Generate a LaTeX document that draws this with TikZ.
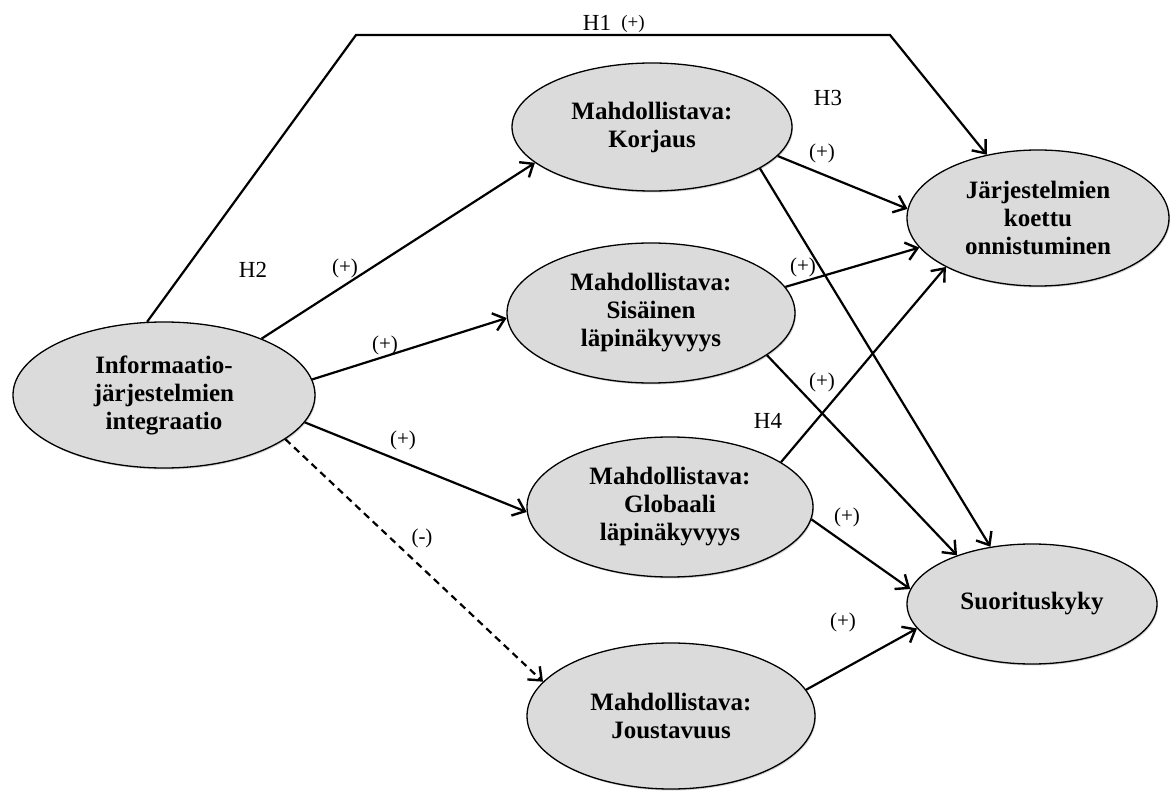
\documentclass[tikz,border=0pt]{standalone}
\usepackage{fontspec}
\setmainfont{Liberation Serif}
\usetikzlibrary{shapes.geometric,arrows.meta,shadows}

\definecolor{boxgrey}{RGB}{219,219,219}

\begin{document}
\begin{tikzpicture}[x=1pt,y=-1pt,
  concept/.style={ellipse, draw=black, line width=1.3pt, fill=boxgrey,
    inner sep=0pt, align=center,
    drop shadow={shadow xshift=1pt, shadow yshift=-1.5pt, opacity=0.35},
    font=\fontsize{25}{28}\selectfont\bfseries},
  link/.style={line width=2.2pt,
    -{Straight Barb[length=11pt,width=18pt,line width=2.4pt]}},
  hyp/.style={font=\fontsize{23}{26}\selectfont, inner sep=0pt},
  sign/.style={font=\fontsize{21}{23}\selectfont, inner sep=0pt}]

\useasboundingbox[fill=white] (0,0) rectangle (1171,794);

% constructs
\node[concept, minimum width=302pt, minimum height=146pt] (info) at (164,395)
  {Informaatio-\\järjestelmien\\integraatio};
\node[concept, minimum width=280pt, minimum height=128pt] (korj) at (652,127)
  {Mahdollistava:\\Korjaus};
\node[concept, minimum width=288pt, minimum height=140pt] (sis) at (651,313)
  {Mahdollistava:\\Sisäinen\\läpinäkyvyys};
\node[concept, minimum width=286pt, minimum height=140pt] (glob) at (670,507)
  {Mahdollistava:\\Globaali\\läpinäkyvyys};
\node[concept, minimum width=288pt, minimum height=146pt] (joust) at (671,716)
  {Mahdollistava:\\Joustavuus};
\node[concept, minimum width=262pt, minimum height=136pt] (succ) at (1038,218)
  {Järjestelmien\\koettu\\onnistuminen};
\node[concept, minimum width=250pt, minimum height=120pt] (perf) at (1032,604)
  {Suorituskyky};

% H1: direct path over the top
\coordinate (h1a) at (356,35);
\coordinate (h1b) at (890,35);
\draw[link] (info.103) -- (h1a) -- (h1b) -- (succ.129);

% H2: integration to the enablers
\draw[link] (info.30) -- (korj.197);
\draw[link] (info.6) -- (sis.182);
\draw[link] (info.349) -- (glob.182);
\draw[link, dashed, dash pattern=on 7pt off 5pt] (info.340) -- (joust.165);

% H3 / H4: enablers to outcomes
\draw[link] (korj.347) -- (succ.176);
\draw[link] (korj.339) -- (perf.126);
\draw[link] (sis.11) -- (succ.194);
\draw[link] (sis.340) -- (perf.147);
\draw[link] (glob.22) -- (succ.208);
\draw[link] (glob.355) -- (perf.173);
\draw[link] (joust.11) -- (perf.192);

% hypothesis labels
\node[hyp] (lh1) at (597,23) {H1};
\node[sign, font=\fontsize{19}{21}\selectfont] (lh1s) at (633,24) {(+)};
\node[hyp] (lh2) at (253,270) {H2};
\node[hyp] (lh3) at (828,98) {H3};
\node[hyp] (lh4) at (768,421) {H4};

% sign labels
\node[sign] (s1) at (345,268) {(+)};
\node[sign] (s2) at (385,345) {(+)};
\node[sign] (s3) at (403,440) {(+)};
\node[sign] (s4) at (422,538) {(-)};
\node[sign] (s5) at (822,153) {(+)};
\node[sign] (s6) at (803,267) {(+)};
\node[sign] (s7) at (822,382) {(+)};
\node[sign] (s8) at (847,517) {(+)};
\node[sign] (s9) at (843,622) {(+)};

\end{tikzpicture}
\end{document}
